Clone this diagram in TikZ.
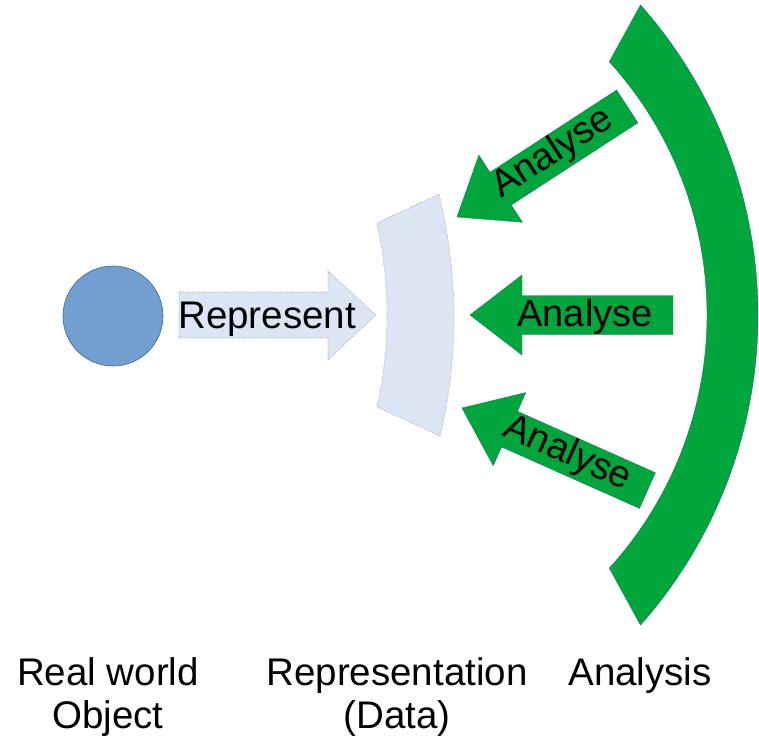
\documentclass[tikz,border=0pt]{standalone}
\usepackage{fontspec}
\setmainfont{Liberation Sans}
\definecolor{objBlue}{HTML}{729FCF}
\definecolor{objEdge}{HTML}{3465A4}
\definecolor{dataBlue}{RGB}{219,229,243}
\definecolor{anaGreen}{RGB}{0,166,60}
\definecolor{anaEdge}{RGB}{30,120,100}
\begin{document}
\begin{tikzpicture}[x=1pt,y=-1pt,
  lbl/.style={font=\fontsize{38.5}{43}\selectfont, inner sep=0pt, align=center},
  albl/.style={font=\fontsize{38}{43}\selectfont, inner sep=0pt},
  lightfill/.style={fill=dataBlue, draw=gray!85, line width=0.6pt, dash pattern=on 0.7pt off 1.5pt},
  greenblock/.style={fill=anaGreen, draw=anaEdge, line width=0.4pt, line join=miter},
]
\useasboundingbox (0,0) rectangle (759,735);

% real world object
\node[circle, minimum size=100pt, inner sep=0pt, fill=objBlue, draw=objEdge, line width=0.6pt] (obj) at (113,316) {};

% represent arrow
\path[lightfill] (179,292) -- (328,292) -- (328,271) -- (376,315) -- (328,360) -- (328,338) -- (179,338) -- cycle;
\node[lbl, anchor=base west] (rep) at (178,328) {Represent};

% representation (data)
\path[lightfill] (377,223) .. controls (390.3,285.7) and (390.3,347) .. (377,407)
  -- (440,436) .. controls (459,356.7) and (458.7,276) .. (439,194) -- cycle;

% analysis block arc
\coordinate (arcOutTop) at (640.5,4.9);
\coordinate (arcInBot) at (609.3,568.2);
\path[greenblock] (arcOutTop) arc[start angle=-41.5, end angle=41.5, radius=468]
  -- (arcInBot) arc[start angle=42.2, end angle=-42.2, radius=377] -- cycle;

% analyse arrows
\begin{scope}[shift={(457,217)}, rotate=33]
  \path[greenblock] (0,0) -- (52,-40) -- (52,-19.5) -- (203,-19.5) -- (203,19.5) -- (52,19.5) -- (52,40) -- cycle;
  \node[albl, rotate=33] (a1) at (115,-1) {Analyse};
\end{scope}
\begin{scope}[shift={(470,315)}]
  \path[greenblock] (0,0) -- (52,-40) -- (52,-19.5) -- (203,-19.5) -- (203,19.5) -- (52,19.5) -- (52,40) -- cycle;
  \node[albl] (a2) at (115,2) {Analyse};
\end{scope}
\begin{scope}[shift={(462,408)}, rotate=-24]
  \path[greenblock] (0,0) -- (52,-40) -- (52,-19.5) -- (203,-19.5) -- (203,19.5) -- (52,19.5) -- (52,40) -- cycle;
  \node[albl, rotate=-24] (a3) at (115,-1) {Analyse};
\end{scope}

% bottom labels
\node[lbl, anchor=north] (lobj) at (108,657) {Real world\\Object};
\node[lbl, anchor=north] (ldata) at (397,657) {Representation\\(Data)};
\node[lbl, anchor=north] (lana) at (640,657) {Analysis};
\end{tikzpicture}
\end{document}
